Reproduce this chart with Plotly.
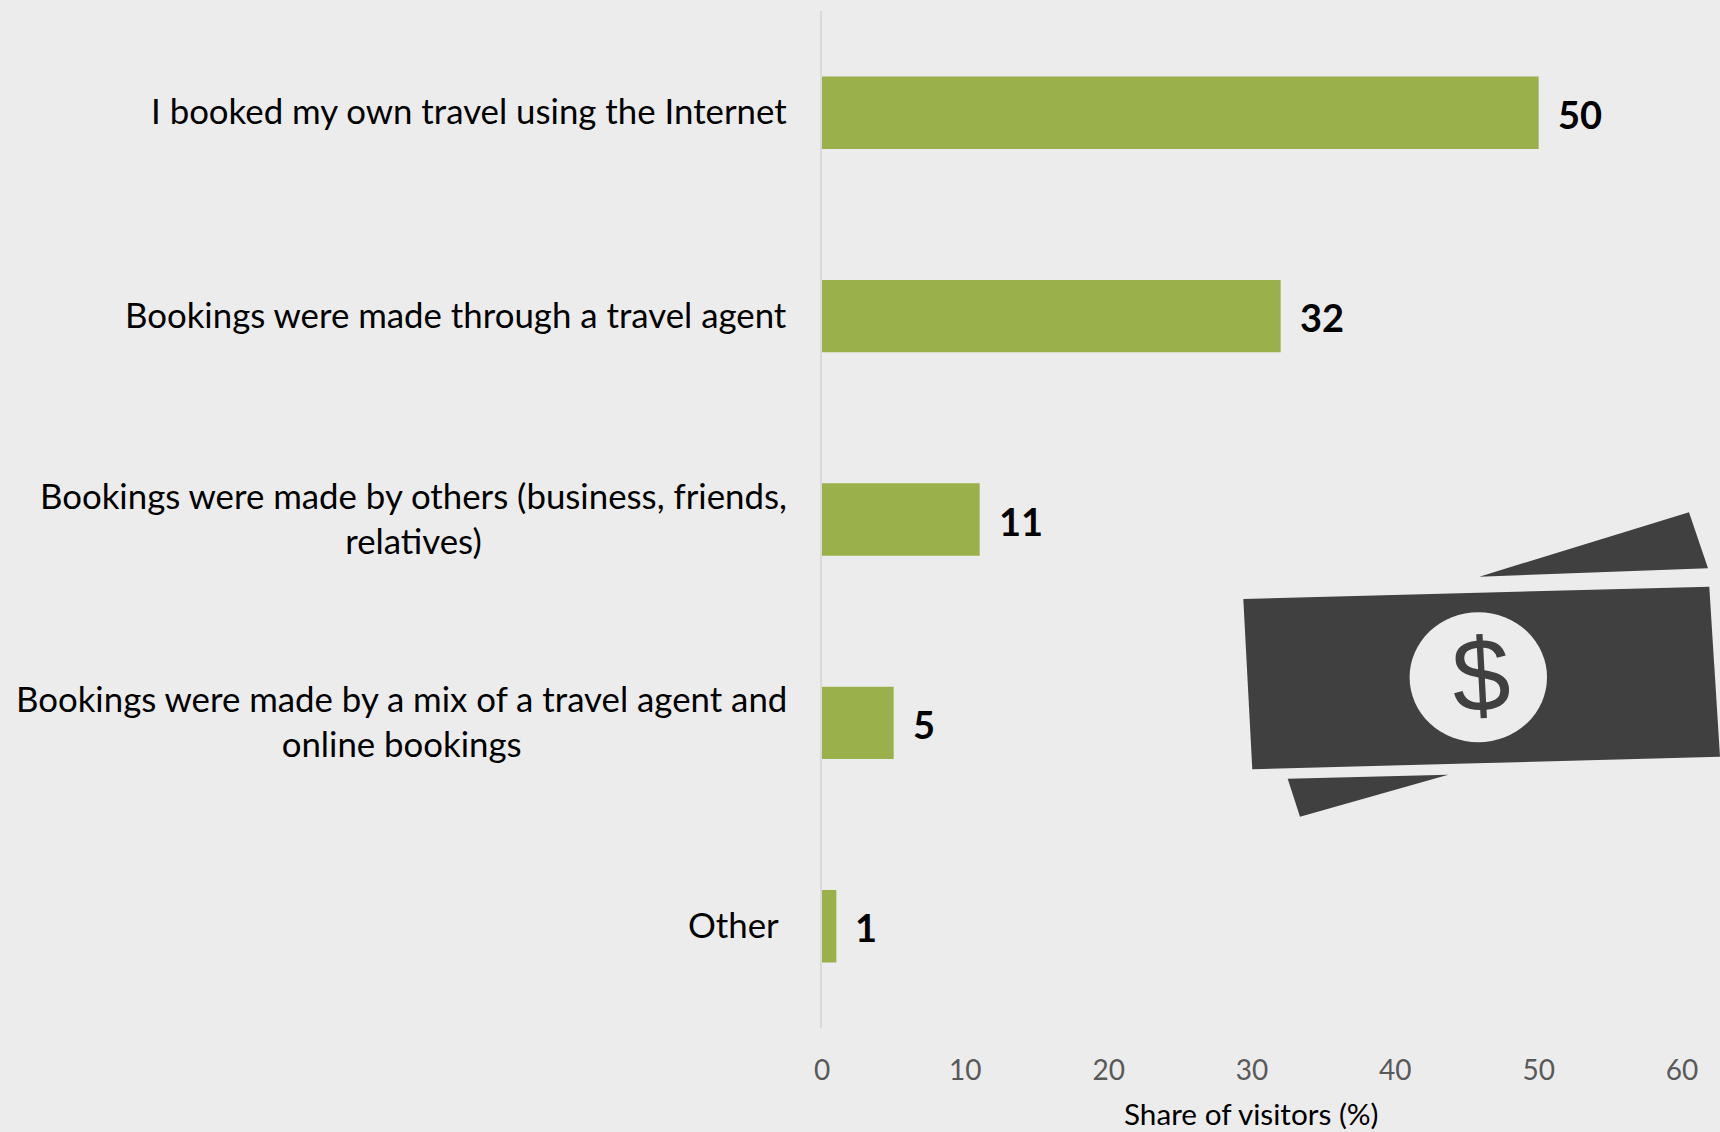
import plotly.graph_objects as go

categories = [
    "I booked my own travel using the Internet",
    "Bookings were made through a travel agent",
    "Bookings were made by others (business, friends,<br>relatives)",
    "Bookings were made by a mix of a travel agent and<br>online bookings",
    "Other",
]
shares = [50, 32, 11, 5, 1]
x_ticks = [0, 10, 20, 30, 40, 50, 60]
x_title = "Share of visitors (%)"

WIDTH, HEIGHT = 1720, 1132
LEFT, RIGHT, TOP, BOTTOM = 822, 38, 11, 104
BACKGROUND = "#ececec"
BAR_GREEN = "#99b04b"
ICON_GREY = "#404040"
FONT = "Lato"
LABEL_SIZE = 34.8


def px(x):
    return (x - LEFT) / (WIDTH - LEFT - RIGHT)


def py(y):
    return 1 - (y - TOP) / (HEIGHT - TOP - BOTTOM)


def polygon(points):
    path = "M " + " L ".join(f"{px(x):.5f},{py(y):.5f}" for x, y in points) + " Z"
    return dict(type="path", xref="paper", yref="paper", path=path,
                fillcolor=ICON_GREY, line=dict(width=0), layer="above")


fig = go.Figure(
    go.Bar(
        x=shares,
        y=categories,
        orientation="h",
        width=0.356,
        marker=dict(color=BAR_GREEN, line=dict(width=0)),
        hoverinfo="skip",
    )
)

annotations = []
for name, value in zip(categories, shares):
    # Category text sits in a wider line box so wrapped rows get the loose leading.
    annotations.append(dict(
        x=0, y=name, xref="x", yref="y", xanchor="right", yanchor="middle",
        xshift=-33 if name != "Other" else -41, yshift=2,
        align="center", showarrow=False,
        text="<br>".join(
            f'<span style="font-size:{LABEL_SIZE}px">{line}</span>'
            for line in name.split("<br>")
        ),
        font=dict(family=FONT, size=34.6, color="#000000"),
    ))
    annotations.append(dict(
        x=value, y=name, xref="x", yref="y", xanchor="left", yanchor="middle",
        xshift=17, yshift=-1, showarrow=False,
        text=f"<b>{value}</b>",
        font=dict(family=FONT, size=38, color="#000000"),
    ))

annotations.append(dict(
    x=px(1251), y=py(1113), xref="paper", yref="paper",
    xanchor="center", yanchor="middle", showarrow=False,
    text=x_title, font=dict(family=FONT, size=29.7, color="#000000"),
))
# Dollar sign on the banknote icon
annotations.append(dict(
    x=px(1481), y=py(675), xref="paper", yref="paper",
    xanchor="center", yanchor="middle", showarrow=False, textangle=-3,
    text="$", font=dict(family="Liberation Sans", size=104, color=ICON_GREY),
))

shapes = [
    polygon([(1243.3, 599), (1709.3, 586.7), (1720, 756.7), (1252.3, 769.3)]),
    polygon([(1479.3, 576.7), (1689, 512.3), (1708, 568.3)]),
    polygon([(1287.7, 778.7), (1448.3, 774.7), (1300, 816.7)]),
    dict(type="circle", xref="paper", yref="paper",
         x0=px(1409.6), x1=px(1547), y0=py(612.3), y1=py(742.3),
         fillcolor=BACKGROUND, line=dict(width=0), layer="above"),
]

fig.update_layout(
    width=WIDTH,
    height=HEIGHT,
    margin=dict(l=LEFT, r=RIGHT, t=TOP, b=BOTTOM, pad=0),
    paper_bgcolor=BACKGROUND,
    plot_bgcolor=BACKGROUND,
    showlegend=False,
    annotations=annotations,
    shapes=shapes,
    font=dict(family=FONT),
    xaxis=dict(
        range=[0, 60],
        tickvals=x_ticks,
        showgrid=False,
        zeroline=False,
        showline=False,
        ticks="outside",
        ticklen=17.5,
        tickcolor=BACKGROUND,
        tickfont=dict(family=FONT, size=28, color="#595959"),
    ),
    yaxis=dict(
        categoryorder="array",
        categoryarray=categories,
        autorange="reversed",
        showticklabels=False,
        showgrid=False,
        zeroline=False,
        showline=True,
        linecolor="#d9d9d9",
        linewidth=1.5,
        ticks="",
    ),
)

fig.write_html("out.html", config=dict(displayModeBar=False))
